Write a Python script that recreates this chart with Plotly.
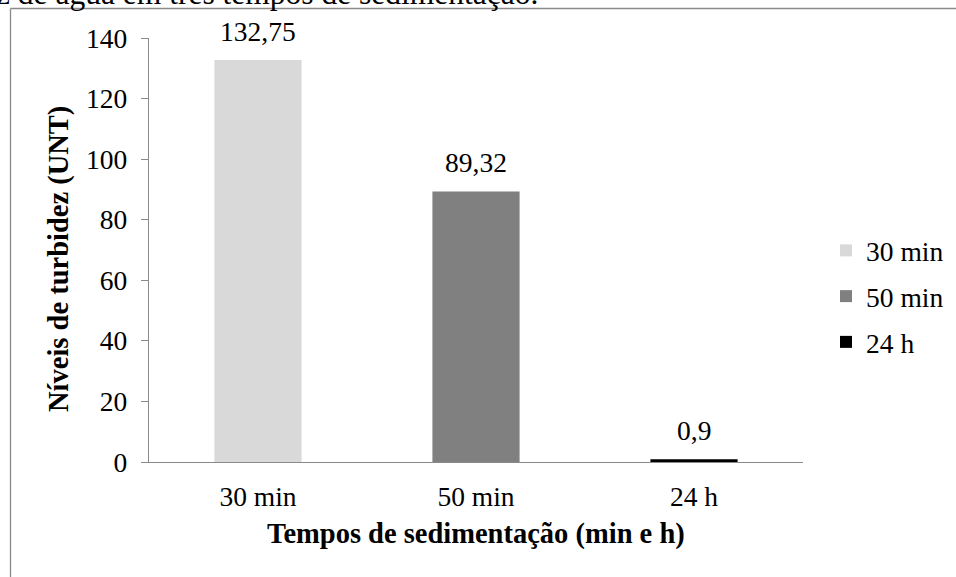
import plotly.graph_objects as go

categories = ["30 min", "50 min", "24 h"]
values = [132.75, 89.32, 0.9]
colors = ["#d9d9d9", "#808080", "#000000"]
y_ticks = [0, 20, 40, 60, 80, 100, 120, 140]
x_title = "Tempos de sedimentação (min e h)"
y_title = "Níveis de turbidez (UNT)"
caption = "z de água em três tempos de sedimentação."

FONT = "Liberation Serif, Times New Roman, serif"
FS = 27.5
FT = 28.5
FC = 31.5
W, H = 956, 577
L, R, T, B = 149, 803, 38, 462

fig = go.Figure()
for c, v, col in zip(categories, values, colors):
    fig.add_trace(go.Bar(x=[c], y=[v], name=c, marker=dict(color=col, line=dict(width=0)),
                         width=0.4, legendgroup=c, hoverinfo="skip"))
    fig.add_annotation(x=c, y=v, yanchor="bottom", yshift=11, showarrow=False,
                       text=f"{v:g}".replace(".", ","),
                       font=dict(family=FONT, size=FS, color="#000"))

pw = R - L
ph = B - T
def px2x(px):
    return (px - L) / pw
def py2y(py):
    return (B - py) / ph

fig.add_shape(type="line", xref="paper", yref="paper", x0=px2x(10.5), x1=px2x(1200), y0=py2y(8.5), y1=py2y(8.5),
              line=dict(color="#8a8a8a", width=1.3))
fig.add_shape(type="line", xref="paper", yref="paper", x0=px2x(10.5), x1=px2x(10.5), y0=py2y(8.5), y1=py2y(900),
              line=dict(color="#8a8a8a", width=1.3))
fig.add_annotation(xref="paper", yref="paper", x=px2x(-6), y=py2y(-6), xanchor="left", yanchor="middle",
                   showarrow=False, text=caption,
                   font=dict(family=FONT, size=FC, color="#000"))
fig.add_annotation(xref="paper", yref="paper", x=px2x(476), y=py2y(534), xanchor="center", yanchor="middle",
                   showarrow=False, text=f"<b>{x_title}</b>",
                   font=dict(family=FONT, size=FT, color="#000"))
fig.add_annotation(xref="paper", yref="paper", x=px2x(59), y=py2y(259), xanchor="center", yanchor="middle",
                   showarrow=False, text=f"<b>{y_title}</b>", textangle=-90,
                   font=dict(family=FONT, size=FT, color="#000"))

fig.update_layout(
    width=W, height=H,
    margin=dict(l=L, r=W - R, t=T, b=H - B, pad=0, autoexpand=False),
    paper_bgcolor="white", plot_bgcolor="white",
    barmode="overlay",
    font=dict(family=FONT, size=FS, color="#000"),
    showlegend=True,
    legend=dict(x=px2x(826), y=py2y(226), xanchor="left", yanchor="top",
                font=dict(family=FONT, size=FS, color="#000"),
                tracegroupgap=7, traceorder="grouped", itemwidth=30),
    xaxis=dict(showline=True, linecolor="#8a8a8a", linewidth=1.3, ticks="", showgrid=False,
               tickfont=dict(family=FONT, size=FS), ticklabelstandoff=10),
    yaxis=dict(range=[0, 140], tickvals=y_ticks, showline=True, linecolor="#8a8a8a", linewidth=1.3,
               ticks="outside", ticklen=7, tickcolor="#8a8a8a", showgrid=False, zeroline=False,
               tickfont=dict(family=FONT, size=FS), ticklabelstandoff=8),
)

fig.write_html("out.html", config={"displayModeBar": False},
               post_script="document.body.style.margin='0px';")
